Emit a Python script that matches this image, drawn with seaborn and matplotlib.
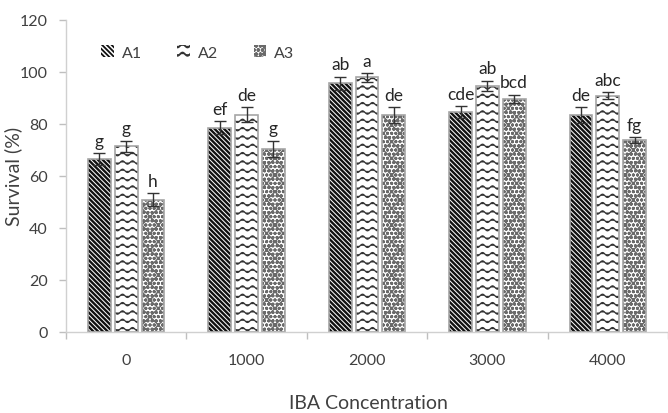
import warnings
warnings.filterwarnings("ignore")
import numpy as np
import pandas as pd
import matplotlib
matplotlib.use("Agg")
import matplotlib.pyplot as plt
from matplotlib import hatch as mhatch
from matplotlib.path import Path
import seaborn as sns

# ---- data ----
concentrations = ["0", "1000", "2000", "3000", "4000"]
treatments = ["A1", "A2", "A3"]
a1_values = [66.4, 78.5, 95.6, 84.4, 83.3]
a2_values = [71.3, 83.5, 97.8, 94.6, 90.8]
a3_values = [50.8, 70.3, 83.3, 89.5, 73.7]
a1_err = [2.2, 2.5, 2.5, 2.3, 3.0]
a2_err = [2.2, 3.0, 1.6, 2.0, 1.3]
a3_err = [2.5, 3.2, 3.2, 1.7, 1.1]
a1_letters = ["g", "ef", "ab", "cde", "de"]
a2_letters = ["g", "de", "a", "ab", "abc"]
a3_letters = ["h", "g", "de", "bcd", "fg"]
y_ticks = [0, 20, 40, 60, 80, 100, 120]


# ---- custom wavy hatch ('~') ----
class WaveHatch(mhatch.HatchPatternBase):
    pts = 9  # points per wave period

    def __init__(self, hatch, density):
        self.num_rows = int(hatch.count('~') * density)
        self.periods = 10
        self.n = self.periods * self.pts + 1
        self.num_vertices = self.num_rows * self.n if self.num_rows else 0

    def set_vertices_and_codes(self, vertices, codes):
        xs = np.linspace(0, 1, self.n)
        amp = 0.2 / max(self.num_rows, 1)
        for r in range(self.num_rows):
            y0 = (r + 0.5) / self.num_rows
            ys = y0 + amp * np.sin(2 * np.pi * self.periods * xs)
            sl = slice(r * self.n, (r + 1) * self.n)
            vertices[sl, 0] = xs
            vertices[sl, 1] = ys
            codes[sl] = Path.LINETO
            codes[r * self.n] = Path.MOVETO


mhatch._hatch_types.append(WaveHatch)

sns.set_theme(style="white")
plt.rcParams["font.family"] = ["Lato", "DejaVu Sans"]
plt.rcParams["hatch.linewidth"] = 1.3

df = pd.DataFrame({
    "conc": concentrations * 3,
    "trt": [t for t in treatments for _ in concentrations],
    "val": a1_values + a2_values + a3_values,
})
errs = [a1_err, a2_err, a3_err]
letters = [a1_letters, a2_letters, a3_letters]
hatches = ["\\" * 7, "~~", "ooooxx"]
hatch_colors = ["#111111", "#333333", "#6a6a6a"]
hatch_lw = [1.7, 0.9, 1.0]

fig = plt.figure(figsize=(6.68, 4.14), dpi=100)
ax = fig.add_axes([66 / 668, 1 - 332.7 / 414, 602 / 668, 312 / 414])

sns.barplot(data=df, x="conc", y="val", hue="trt", order=concentrations,
            hue_order=treatments, palette=["white"] * 3, errorbar=None,
            width=0.667, gap=0.15, linewidth=0, ax=ax, legend=False)
sns.barplot(data=df, x="conc", y="val", hue="trt", order=concentrations,
            hue_order=treatments, errorbar=None, fill=False,
            width=0.667, gap=0.15, linewidth=1.2, ax=ax, legend=False)

fill_containers = ax.containers[:3]
edge_containers = ax.containers[3:6]
for i, cont in enumerate(fill_containers):
    for p in cont:
        p.set_hatch(hatches[i])
        p.set_edgecolor(hatch_colors[i])
        p.set_linewidth(0)
        if hasattr(p, "set_hatch_linewidth"):
            p.set_hatch_linewidth(hatch_lw[i])
for cont in edge_containers:
    for p in cont:
        p.set_edgecolor("#a6a6a6")
        p.set_linewidth(1.2)

for i, cont in enumerate(fill_containers):
    xs = [p.get_x() + p.get_width() / 2 for p in cont]
    hs = [p.get_height() for p in cont]
    ax.errorbar(xs, hs, yerr=errs[i], fmt="none", ecolor="#333333",
                elinewidth=1.0, capsize=4, capthick=1.0, zorder=5)
    for x, h, e, lab in zip(xs, hs, errs[i], letters[i]):
        ax.annotate(lab, (x, h + e), xytext=(0, 3), textcoords="offset points",
                    ha="center", va="bottom", fontsize=12.5, color="#262626")

# axes styling
ax.set_ylim(0, 120)
ax.set_xlim(-0.5, 4.46)
ax.set_yticks(y_ticks)
ax.set_yticklabels([str(v) for v in y_ticks])
ax.set_xticks(range(len(concentrations)))
ax.set_xticklabels(concentrations)
ax.set_xticks(np.arange(-0.5, 5.0, 1.0), minor=True)
ax.tick_params(axis="x", which="major", length=0, pad=15, labelsize=11.5, labelcolor="#404040")
ax.tick_params(axis="x", which="minor", length=5, width=1, color="#bfbfbf", bottom=True)
ax.tick_params(axis="y", length=5, width=1, color="#bfbfbf", pad=8, labelsize=11.5,
               labelcolor="#404040", left=True)
for s in ["top", "right"]:
    ax.spines[s].set_visible(False)
for s in ["left", "bottom"]:
    ax.spines[s].set_color("#d0d0d0")
    ax.spines[s].set_linewidth(1)

ax.set_ylabel("Survival (%)", fontsize=14, color="#404040")
ax.yaxis.set_label_coords(-0.072, 0.5)
ax.set_xlabel("IBA Concentration", fontsize=14, color="#404040")
ax.xaxis.set_label_coords(0.502, -0.2)

handles = [cont.patches[0] for cont in fill_containers]
leg = ax.legend(handles, treatments, loc="upper left", bbox_to_anchor=(0.035, 0.965),
                ncol=3, frameon=False, handlelength=0.8, handleheight=0.8,
                handletextpad=0.5, columnspacing=2.2, fontsize=11.5)
for t in leg.get_texts():
    t.set_color("#404040")

fig.savefig("out.png", dpi=100)
